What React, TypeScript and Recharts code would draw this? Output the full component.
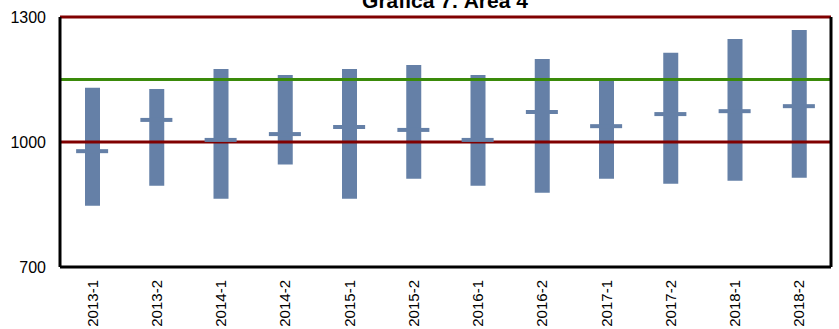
import {
  ComposedChart,
  Bar,
  Scatter,
  XAxis,
  YAxis,
  ReferenceLine,
} from "recharts";

const periods = [
  "2013-1", "2013-2", "2014-1", "2014-2", "2015-1", "2015-2",
  "2016-1", "2016-2", "2017-1", "2017-2", "2018-1", "2018-2",
];
const lows = [847, 895, 864, 946, 864, 912, 895, 878, 912, 900, 907, 914];
const highs = [1130, 1127, 1175, 1161, 1175, 1185, 1161, 1199, 1149, 1214, 1247, 1269];
const means = [978, 1053, 1005, 1019, 1036, 1029, 1005, 1072, 1038, 1067, 1074, 1086];
const yTicks = [700, 1000, 1300];
const redLimits = [1000, 1300];
const greenLimit = 1150;

const barColor = "#6580a7";
const font = "'Liberation Sans', Arial, sans-serif";

const XTick = ({ x, y, payload }: any) => {
  const ty = y + 5;
  return (
    <text
      x={x}
      y={ty}
      transform={`rotate(-90 ${x} ${ty})`}
      textAnchor="end"
      dominantBaseline="central"
      fontSize={15}
      fontFamily={font}
      fill="#000"
    >
      {payload.value}
    </text>
  );
};

const MeanMark = ({ cx, cy }: any) => (
  <rect x={cx - 16} y={cy - 2} width={32} height={4} fill={barColor} />
);

const App = () => {
  const data = periods.map((p, i) => ({
    name: p,
    range: [lows[i], highs[i]],
    mean: means[i],
  }));

  return (
    <div style={{ position: "absolute", left: 0, top: 0, width: 839, height: 329, background: "#fff" }}>
      <ComposedChart
        width={839}
        height={329}
        data={data}
        margin={{ top: 17, right: 7, left: 0, bottom: 0 }}
      >
        <text
          x={445}
          y={8}
          textAnchor="middle"
          fontSize={21}
          fontWeight="bold"
          fontFamily={font}
          fill="#000"
        >
          Gráfica 7. Área 4
        </text>
        <XAxis
          dataKey="name"
          height={62}
          tickLine={false}
          axisLine={{ stroke: "#000", strokeWidth: 3 }}
          tick={<XTick />}
          interval={0}
        />
        <YAxis
          domain={[700, 1300]}
          ticks={yTicks}
          allowDataOverflow
          width={60}
          tickLine={false}
          tickMargin={8}
          axisLine={{ stroke: "#000", strokeWidth: 3 }}
          tick={{ fontSize: 16, fontFamily: font, fill: "#000" }}
        />
        <YAxis
          yAxisId="right"
          orientation="right"
          domain={[700, 1300]}
          width={1}
          tick={false}
          tickLine={false}
          axisLine={{ stroke: "#000", strokeWidth: 3 }}
        />
        <Bar dataKey="range" barSize={15} fill={barColor} isAnimationActive={false} />
        <Scatter dataKey="mean" shape={<MeanMark />} isAnimationActive={false} />
        {redLimits.map((v) => (
          <ReferenceLine key={v} y={v} stroke="#800000" strokeWidth={3} />
        ))}
        <ReferenceLine y={greenLimit} stroke="#3a8a0a" strokeWidth={3} />
      </ComposedChart>
    </div>
  );
};

export default App;
